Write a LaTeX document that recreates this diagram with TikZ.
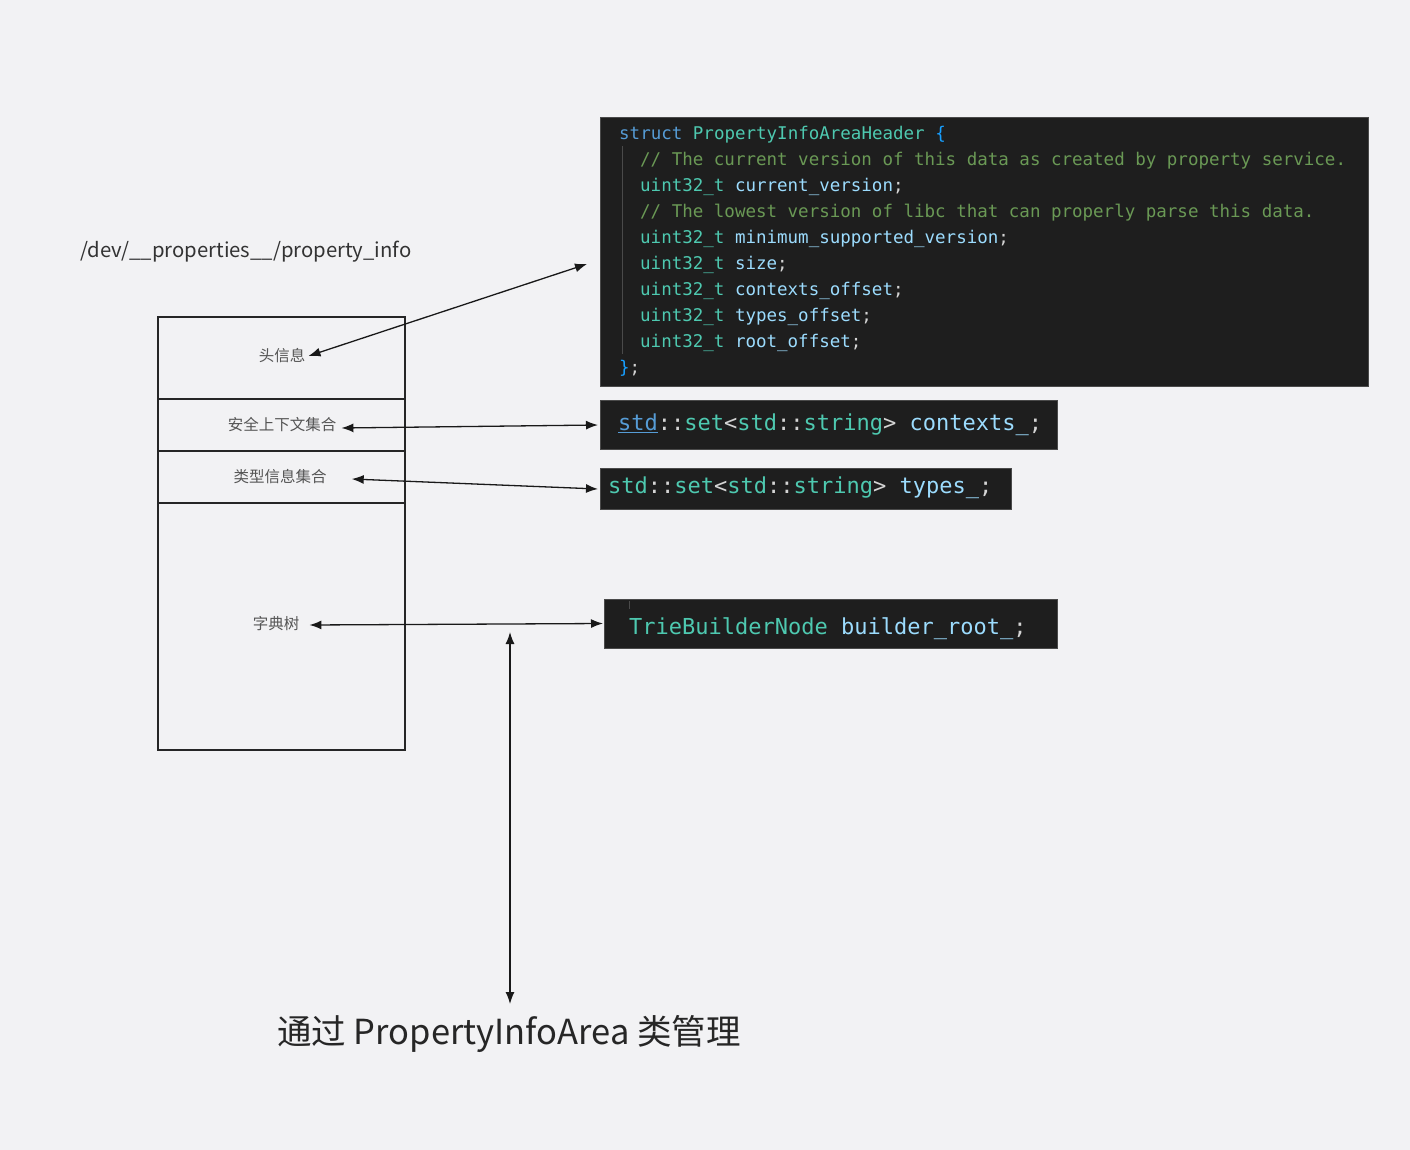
\documentclass[tikz,border=0pt]{standalone}
\usepackage{fontspec}
\setmainfont{Noto Sans CJK SC}
\setsansfont{Noto Sans CJK SC}
\setmonofont{DejaVu Sans Mono}
\usetikzlibrary{arrows.meta}
\definecolor{bgc}{HTML}{F2F2F4}
\definecolor{codebg}{HTML}{1E1E1E}
\definecolor{codeborder}{HTML}{4A4A4A}
\definecolor{ckw}{HTML}{569CD6}
\definecolor{cty}{HTML}{4EC9B0}
\definecolor{ccm}{HTML}{6A9955}
\definecolor{cid}{HTML}{9CDCFE}
\definecolor{cpn}{HTML}{D4D4D4}
\definecolor{cbr}{HTML}{179FFF}
\definecolor{clbl}{HTML}{555555}
\definecolor{ctitle}{HTML}{333333}
\newcommand{\ckw}[1]{\textcolor{ckw}{#1}}
\newcommand{\cty}[1]{\textcolor{cty}{#1}}
\newcommand{\ccm}[1]{\textcolor{ccm}{#1}}
\newcommand{\cid}[1]{\textcolor{cid}{#1}}
\newcommand{\cpn}[1]{\textcolor{cpn}{#1}}
\newcommand{\cbr}[1]{\textcolor{cbr}{#1}}
\begin{document}
\begin{tikzpicture}[x=1pt,y=-1pt,
  codebox/.style={fill=codebg,draw=codeborder,line width=1pt,inner sep=0pt,anchor=north west},
  codeline/.style={anchor=mid west,inner sep=0pt,font=\fontsize{17.5}{20}\ttfamily},
  bigcode/.style={anchor=mid west,inner sep=0pt,font=\fontsize{22}{26}\ttfamily},
  section/.style={draw=black!85,line width=2pt,minimum width=247pt,inner sep=0pt,anchor=north west},
  lbl/.style={inner sep=0pt,text=clbl,font=\fontsize{15.5}{18}\selectfont},
  arr/.style={{Latex[length=12pt,width=9pt]}-{Latex[length=12pt,width=9pt]},line width=1.3pt,draw=black!90}
]
\useasboundingbox (0,0) rectangle (1410,1150);
\fill[bgc] (0,0) rectangle (1410,1150);

% title
\node[anchor=mid west,inner sep=0pt,text=ctitle,font=\fontsize{20.3}{24}\selectfont] (title) at (80,255) {/dev/\_\_properties\_\_/property\_info};

% left file box
\node[section,minimum height=82pt] (s1) at (157,316) {};
\node[section,minimum height=52pt] (s2) at (157,398) {};
\node[section,minimum height=52pt] (s3) at (157,450) {};
\node[section,minimum height=247pt] (s4) at (157,502) {};

\node[lbl] (l1) at (282,356) {头信息};
\node[lbl] (l2) at (282,425) {安全上下文集合};
\node[lbl] (l3) at (280,477) {类型信息集合};
\node[lbl] (l4) at (276,624) {字典树};

% header code box
\node[codebox,minimum width=768pt,minimum height=269pt] (hdr) at (600,117) {};
\draw[codeborder,line width=1pt] (622,146) -- (622,354);
\node[codeline] (c1) at (619,137) {\ckw{struct} \cty{PropertyInfoAreaHeader} \cbr{\{}};
\node[codeline] (c2) at (640,163) {\ccm{// The current version of this data as created by property service.}};
\node[codeline] (c3) at (640,189) {\cty{uint32\_t} \cid{current\_version}\cpn{;}};
\node[codeline] (c4) at (640,215) {\ccm{// The lowest version of libc that can properly parse this data.}};
\node[codeline] (c5) at (640,241) {\cty{uint32\_t} \cid{minimum\_supported\_version}\cpn{;}};
\node[codeline] (c6) at (640,267) {\cty{uint32\_t} \cid{size}\cpn{;}};
\node[codeline] (c7) at (640,293) {\cty{uint32\_t} \cid{contexts\_offset}\cpn{;}};
\node[codeline] (c8) at (640,319) {\cty{uint32\_t} \cid{types\_offset}\cpn{;}};
\node[codeline] (c9) at (640,345) {\cty{uint32\_t} \cid{root\_offset}\cpn{;}};
\node[codeline] (c10) at (619,371) {\cbr{\}}\cpn{;}};

% contexts box
\node[codebox,minimum width=457pt,minimum height=49pt] (ctx) at (600,400) {};
\node[bigcode] (ctxt) at (618,428) {\textcolor{ckw}{\underline{std}}\cpn{::}\cty{set}\cpn{<}\cty{std}\cpn{::}\cty{string}\cpn{>} \cid{contexts\_}\cpn{;}};

% types box
\node[codebox,minimum width=411pt,minimum height=41pt] (typ) at (600,468) {};
\node[bigcode] (typt) at (608,491) {\cty{std}\cpn{::}\cty{set}\cpn{<}\cty{std}\cpn{::}\cty{string}\cpn{>} \cid{types\_}\cpn{;}};

% root box
\node[codebox,minimum width=453pt,minimum height=49pt] (root) at (604,599) {};
\draw[codeborder,line width=1pt] (629,601) -- (629,609);
\node[bigcode] (roott) at (629,632) {\cty{TrieBuilderNode} \cid{builder\_root\_}\cpn{;}};

% connectors
\coordinate (hdrpt) at (587,264);
\draw[arr] ([xshift=3pt]l1.east) -- (hdrpt);
\draw[arr] ([xshift=5pt,yshift=-3pt]l2.east) -- ([xshift=-2pt]ctx.west);
\draw[arr] ([xshift=25pt,yshift=-2pt]l3.east) -- ([xshift=-2pt]typ.west);
\draw[arr] ([xshift=10pt,yshift=-1pt]l4.east) -- ([xshift=-1pt,yshift=0.5pt]root.west);

\coordinate (vtop) at (510,632);
\coordinate (vbot) at (510,1004);
\draw[arr] (vtop) -- (vbot);

% bottom caption
\node[inner sep=0pt,text=black!85,font=\fontsize{34.5}{40}\selectfont] (cap) at (509,1034) {通过 PropertyInfoArea 类管理};
\end{tikzpicture}
\end{document}
